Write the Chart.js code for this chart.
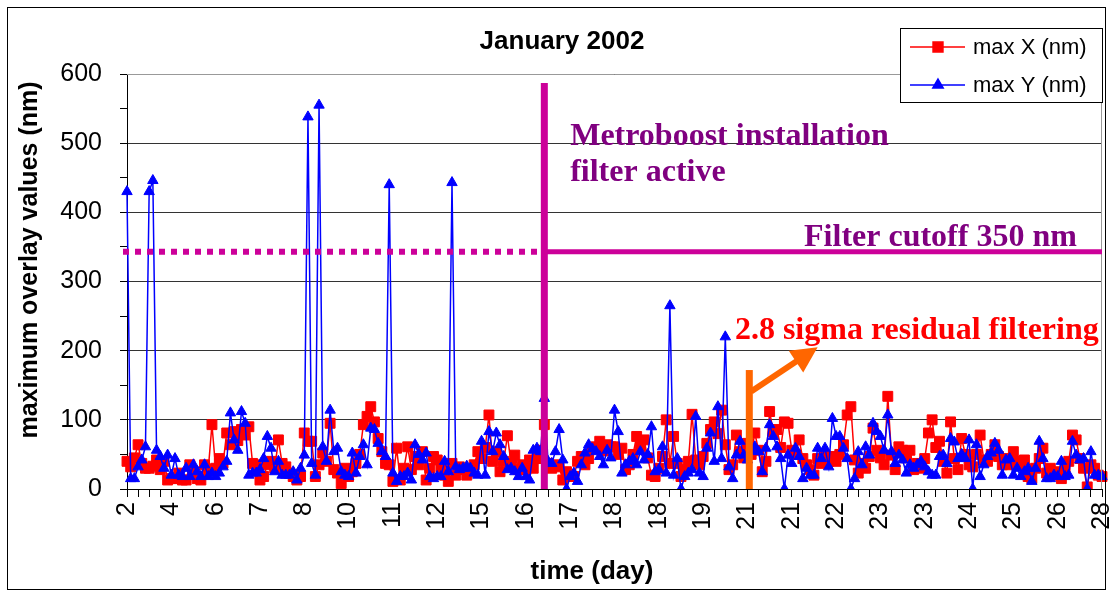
<!DOCTYPE html>
<html>
<head>
<meta charset="utf-8">
<script src="https://cdn.jsdelivr.net/npm/chart.js@4.4.1/dist/chart.umd.min.js"></script>
<style>
  html, body { margin: 0; padding: 0; background: #fff; }
</style>
</head>
<body>
<canvas id="chart" width="1113" height="595"></canvas>
<script>
// DAY LABELS (one every 12 samples)
const dayTicks = ['2', '4', '6', '7', '8', '10', '11', '12', '15', '16', '17', '18',
  '18', '19', '21', '21', '22', '23', '23', '24', '25', '26', '28'];
const samplesPerLabel = 12;
const samplesPerTick = 3;

// max X (nm)
const maxX = [
  40, 32, 45, 64, 37, 30, 30, 33, 42, 28,
  40, 13, 15, 15, 23, 13, 13, 35, 25, 15,
  13, 35, 28, 93, 30, 44, 37, 81, 64, 83,
  70, 86, 78, 90, 37, 35, 13, 18, 35, 40,
  30, 71, 37, 32, 23, 18, 13, 18, 81, 69,
  69, 18, 35, 52, 40, 95, 28, 23, 8, 30,
  18, 25, 37, 50, 93, 105, 119, 97, 73, 54,
  37, 35, 11, 59, 13, 30, 61, 28, 47, 35,
  54, 13, 30, 47, 42, 32, 20, 11, 37, 20,
  32, 28, 20, 25, 35, 54, 44, 60, 107, 40,
  54, 25, 40, 77, 37, 49, 28, 35, 28, 42,
  30, 44, 56, 93, 37, 30, 35, 32, 13, 25,
  18, 18, 40, 47, 35, 44, 59, 61, 69, 55,
  64, 61, 61, 50, 59, 28, 35, 50, 76, 61,
  71, 45, 20, 18, 30, 47, 100, 37, 76, 37,
  18, 28, 40, 108, 42, 35, 47, 66, 86, 97,
  80, 114, 64, 28, 35, 78, 54, 45, 66, 50,
  81, 56, 25, 40, 112, 83, 86, 60, 97, 95,
  56, 50, 71, 44, 35, 28, 20, 44, 37, 47,
  40, 47, 40, 50, 64, 107, 119, 42, 23, 37,
  30, 47, 88, 56, 45, 35, 134, 49, 28, 61,
  56, 45, 56, 28, 37, 30, 44, 81, 100, 60,
  69, 40, 23, 97, 44, 28, 73, 50, 35, 32,
  50, 78, 42, 40, 50, 64, 47, 35, 44, 35,
  54, 40, 35, 42, 18, 15, 30, 44, 59, 23,
  30, 20, 25, 15, 30, 40, 78, 71, 44, 30,
  3, 35, 30, 20, 18
];

// max Y (nm)
const maxY = [
  430, 15, 15, 32, 42, 61, 430, 446, 56, 47,
  30, 49, 20, 44, 20, 18, 30, 18, 35, 25,
  18, 35, 18, 23, 18, 23, 32, 40, 110, 71,
  56, 112, 95, 20, 23, 23, 28, 44, 76, 59,
  25, 40, 20, 20, 20, 25, 13, 30, 49, 538,
  37, 20, 555, 61, 40, 114, 54, 59, 25, 20,
  18, 52, 23, 47, 64, 35, 88, 86, 66, 54,
  47, 440, 23, 11, 18, 18, 23, 13, 64, 50,
  42, 52, 18, 15, 18, 18, 40, 25, 443, 32,
  28, 30, 33, 30, 23, 20, 69, 20, 83, 54,
  81, 64, 47, 28, 30, 25, 18, 30, 18, 13,
  56, 59, 54, 131, 40, 37, 54, 86, 42, 0,
  18, 23, 11, 35, 52, 64, 58, 54, 47, 35,
  56, 45, 114, 83, 23, 35, 40, 44, 35, 54,
  42, 50, 90, 25, 28, 61, 23, 265, 20, 44,
  0, 18, 23, 28, 105, 23, 18, 59, 81, 40,
  119, 44, 220, 32, 15, 49, 69, 49, 42, 55,
  61, 54, 25, 59, 93, 76, 61, 44, 0, 49,
  37, 59, 47, 15, 30, 20, 20, 59, 44, 59,
  32, 102, 76, 76, 59, 44, 0, 15, 54, 35,
  61, 49, 95, 83, 76, 56, 107, 54, 37, 49,
  42, 23, 35, 30, 35, 40, 32, 25, 20, 20,
  47, 49, 37, 73, 68, 44, 50, 44, 71, 0,
  64, 18, 35, 47, 52, 66, 56, 20, 42, 44,
  20, 30, 18, 25, 30, 11, 30, 69, 44, 15,
  15, 20, 18, 40, 18, 20, 69, 49, 42, 44,
  0, 54, 20, 20, 18
];

// ANNOTATIONS (sample index, nm)
const installIndex = 113;
const installTop = 587;
const cutoffNm = 343;
const residualIndex = 168.5;
const residualTop = 172;
const arrowFrom = [169, 141];
const arrowTo = [187, 205];
const notes = [
  { text: 'Metroboost installation', at: [120, 497], color: '#800080', align: 'left' },
  { text: 'filter active', at: [120, 446], color: '#800080', align: 'left' },
  { text: 'Filter cutoff 350 nm', at: [257.2, 352], color: '#800080', align: 'right' },
  { text: '2.8 sigma residual filtering', at: [164.6, 217], color: '#FF0000', align: 'left' }
];

// TITLES
const chartTitle = 'January 2002';
const xTitle = 'time (day)';
const yTitle = 'maximum overlay values (nm)';

const labels = maxX.map((_, i) => i % samplesPerLabel === 0 ? dayTicks[i / samplesPerLabel] : '');

const SANS = '"Liberation Sans", Arial, sans-serif';
const SERIF = '"Liberation Serif", "Times New Roman", serif';
const MAGENTA = '#CC0099';
const ORANGE = '#FF6600';

const overlayPlugin = {
  id: 'overlay',
  beforeDraw(chart) {
    const ctx = chart.ctx;
    ctx.save();
    ctx.fillStyle = '#fff';
    ctx.fillRect(0, 0, chart.width, chart.height);
    ctx.restore();
  },
  afterDatasetsDraw(chart) {
    const { ctx, chartArea: a, scales: { x, y } } = chart;
    const px = i => x.getPixelForValue(i);
    ctx.save();

    // plot area border
    ctx.strokeStyle = '#999';
    ctx.lineWidth = 1;
    ctx.beginPath();
    ctx.moveTo(a.left, a.top + 0.5);
    ctx.lineTo(a.right - 0.5, a.top + 0.5);
    ctx.lineTo(a.right - 0.5, a.bottom);
    ctx.stroke();

    // dotted cutoff before installation
    const xi = px(installIndex);
    const yc = y.getPixelForValue(cutoffNm);
    ctx.strokeStyle = MAGENTA;
    ctx.lineWidth = 6;
    ctx.setLineDash([6, 6]);
    ctx.beginPath();
    ctx.moveTo(a.left - 4, yc);
    ctx.lineTo(xi, yc);
    ctx.stroke();

    // solid cutoff after installation
    ctx.setLineDash([]);
    ctx.lineWidth = 5;
    ctx.beginPath();
    ctx.moveTo(xi, yc);
    ctx.lineTo(a.right, yc);
    ctx.stroke();

    // installation line
    ctx.lineWidth = 7;
    ctx.beginPath();
    ctx.moveTo(xi, y.getPixelForValue(installTop));
    ctx.lineTo(xi, y.getPixelForValue(0));
    ctx.stroke();

    // residual filtering marker + arrow
    const xr = px(residualIndex);
    ctx.strokeStyle = ORANGE;
    ctx.fillStyle = ORANGE;
    ctx.lineWidth = 7;
    ctx.beginPath();
    ctx.moveTo(xr, y.getPixelForValue(residualTop));
    ctx.lineTo(xr, y.getPixelForValue(0));
    ctx.stroke();

    const x0 = px(arrowFrom[0]), y0 = y.getPixelForValue(arrowFrom[1]);
    const x1 = px(arrowTo[0]), y1 = y.getPixelForValue(arrowTo[1]);
    const ang = Math.atan2(y1 - y0, x1 - x0);
    const head = 26;
    ctx.lineWidth = 6;
    ctx.beginPath();
    ctx.moveTo(x0, y0);
    ctx.lineTo(x1 - head * 0.8 * Math.cos(ang), y1 - head * 0.8 * Math.sin(ang));
    ctx.stroke();
    ctx.beginPath();
    ctx.moveTo(x1, y1);
    ctx.lineTo(x1 - head * Math.cos(ang) + 13 * Math.sin(ang), y1 - head * Math.sin(ang) - 13 * Math.cos(ang));
    ctx.lineTo(x1 - head * Math.cos(ang) - 13 * Math.sin(ang), y1 - head * Math.sin(ang) + 13 * Math.cos(ang));
    ctx.closePath();
    ctx.fill();

    // notes
    ctx.font = 'bold 32px ' + SERIF;
    ctx.textBaseline = 'alphabetic';
    notes.forEach(n => {
      ctx.fillStyle = n.color;
      ctx.textAlign = n.align;
      ctx.fillText(n.text, px(n.at[0]), y.getPixelForValue(n.at[1]));
    });
    ctx.restore();
  },
  afterDraw(chart) {
    const { ctx, chartArea: a } = chart;
    ctx.save();

    // titles
    ctx.fillStyle = '#000';
    ctx.textAlign = 'center';
    ctx.textBaseline = 'middle';
    ctx.font = 'bold 26px ' + SANS;
    ctx.fillText(chartTitle, 562, 42);
    ctx.fillText(xTitle, 592, 572);
    ctx.save();
    ctx.translate(30, 260);
    ctx.rotate(-Math.PI / 2);
    ctx.font = 'bold 25px ' + SANS;
    ctx.fillText(yTitle, 0, 0);
    ctx.restore();

    // legend box
    const right = a.right + 1, left = right - 203, top = 28, bottom = 103;
    ctx.fillStyle = '#fff';
    ctx.fillRect(left, top, right - left, bottom - top);
    ctx.strokeStyle = '#000';
    ctx.lineWidth = 1;
    ctx.strokeRect(left + 0.5, top + 0.5, right - left - 1, bottom - top - 1);

    chart.data.datasets.forEach((d, k) => {
      const cy = top + 19 + k * 38;
      ctx.strokeStyle = d.borderColor;
      ctx.lineWidth = 1.5;
      ctx.beginPath();
      ctx.moveTo(left + 10, cy);
      ctx.lineTo(left + 65, cy);
      ctx.stroke();
      ctx.fillStyle = d.backgroundColor;
      Chart.helpers.drawPoint(ctx, {
        pointStyle: d.pointStyle, radius: d.pointRadius, borderWidth: 1, rotation: 0
      }, left + 38, cy);
      ctx.fillStyle = '#000';
      ctx.font = '22px ' + SANS;
      ctx.textBaseline = 'middle';
      ctx.textAlign = 'left';
      ctx.fillText(d.label, left + 73, cy + 1);
    });

    // outer frame
    ctx.strokeStyle = '#000';
    ctx.lineWidth = 1;
    ctx.strokeRect(7.5, 7.5, 1098, 582);
    ctx.restore();
  }
};

new Chart(document.getElementById('chart'), {
  type: 'line',
  data: {
    labels: labels,
    datasets: [
      {
        label: 'max X (nm)',
        data: maxX,
        order: 2,
        borderColor: '#FF0000',
        backgroundColor: '#FF0000',
        borderWidth: 1.5,
        pointStyle: 'rect',
        pointRadius: 7,
        pointBorderWidth: 1,
        tension: 0
      },
      {
        label: 'max Y (nm)',
        data: maxY,
        order: 1,
        borderColor: '#0000FF',
        backgroundColor: '#0000FF',
        borderWidth: 1.5,
        pointStyle: 'triangle',
        pointRadius: 6,
        pointBorderWidth: 1,
        tension: 0
      }
    ]
  },
  options: {
    responsive: false,
    animation: false,
    events: [],
    layout: { padding: { top: 74, right: 11, bottom: 0, left: 0 } },
    plugins: {
      legend: { display: false },
      tooltip: { enabled: false },
      title: { display: false }
    },
    scales: {
      x: {
        type: 'category',
        offset: false,
        grid: {
          drawOnChartArea: false,
          drawTicks: true,
          tickLength: 8,
          tickColor: c => c.index % samplesPerTick === 0 ? '#000' : 'rgba(0,0,0,0)'
        },
        border: { color: '#000', width: 1 },
        ticks: {
          autoSkip: false,
          maxRotation: 90,
          minRotation: 90,
          padding: 5,
          color: '#000',
          font: { family: SANS, size: 25 },
          callback: (v, i) => labels[i]
        },
        title: { display: false },
        afterFit: s => {
          s.height = 106;
          s.paddingLeft = 0;
          s.paddingRight = 0;
        }
      },
      y: {
        min: 0,
        max: 600,
        grid: {
          color: c => c.tick.value % 100 === 0 ? '#333' : 'rgba(0,0,0,0)',
          tickColor: '#000',
          tickLength: 7
        },
        border: { color: '#000', width: 1 },
        ticks: {
          stepSize: 50,
          padding: 18,
          color: '#000',
          font: { family: SANS, size: 25 },
          callback: v => v % 100 === 0 ? v : ''
        },
        title: { display: false },
        afterFit: s => {
          s.width = 127;
          s.paddingTop = 0;
        }
      }
    }
  },
  plugins: [overlayPlugin]
});
</script>
</body>
</html>
